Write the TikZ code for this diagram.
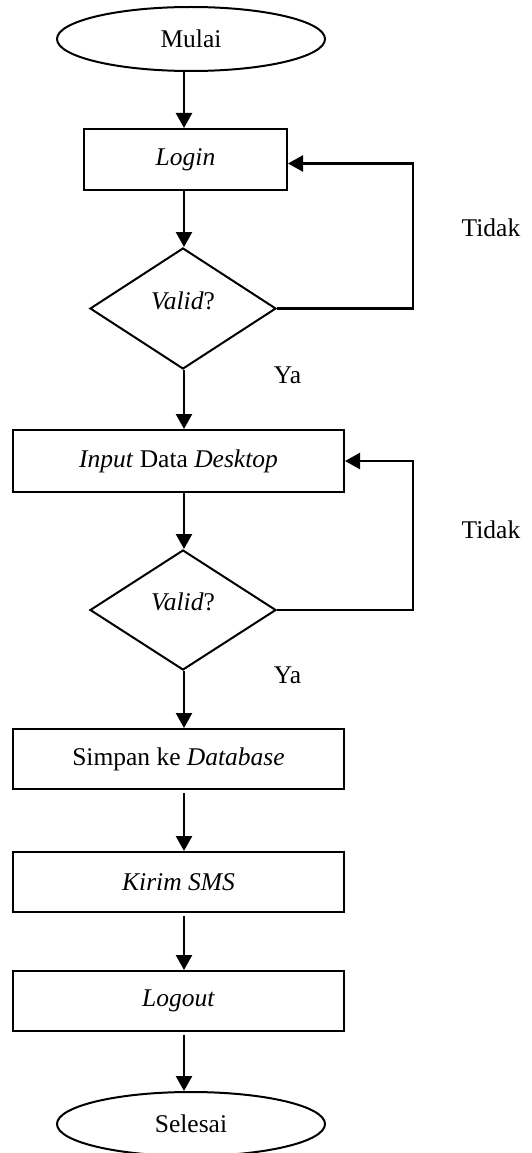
\documentclass[tikz,border=0pt]{standalone}
\usepackage{fontspec}
\setmainfont{Liberation Serif}
\usetikzlibrary{shapes.geometric,arrows.meta}
\newcommand{\liftq}[1]{\raisebox{8pt}[\height][\depth]{#1}}
\begin{document}
\begin{tikzpicture}[x=1pt,y=-1pt,
  font=\fontsize{25.5}{30}\selectfont,
  term/.style={draw,ellipse,line width=2pt,minimum width=268pt,minimum height=64pt,inner sep=0pt},
  proc/.style={draw,rectangle,line width=2pt,inner sep=0pt,minimum width=331pt,minimum height=61pt},
  decide/.style={draw,diamond,line width=2pt,minimum width=186pt,minimum height=121pt,inner sep=0pt},
  flow/.style={line width=2.4pt,-{Triangle[length=15pt,width=16pt]}},
  lbl/.style={inner sep=0pt}]
\useasboundingbox (0,0) rectangle (531,1153);

% guide lines for the main column and the return loops
\coordinate (ax) at (184,0);
\coordinate (rx) at (413,0);

% flow steps
\node[term] (mulai) at (191,39) {\raisebox{-2pt}{Mulai}};
\node[proc,minimum width=203pt] (login) at (185.5,159.5) {\textit{Login}};
\node[decide] (valid1) at (183,308.5) {\liftq{\textit{Valid}?}};
\node[proc,minimum height=62pt] (input) at (178.5,461) {\textit{Input} Data \textit{Desktop}};
\node[decide,minimum height=120pt] (valid2) at (183,610) {\liftq{\textit{Valid}?}};
\node[proc,minimum height=60pt] (simpan) at (178.5,759) {Simpan ke \textit{Database}};
\node[proc,minimum height=60pt] (kirim) at (178.5,882) {\textit{Kirim SMS}};
\node[proc,minimum height=60pt] (logout) at (178.5,1001) {\textit{Logout}};
\node[term] (selesai) at (191,1124) {Selesai};

% branch labels
\node[lbl] (tidak1) at (491,228) {Tidak};
\node[lbl] (ya1) at (287.5,375) {Ya};
\node[lbl] (tidak2) at (491,530) {Tidak};
\node[lbl] (ya2) at (287.5,675) {Ya};

% main column
\draw[flow] (ax |- mulai.south) -- (ax |- login.north);
\draw[flow] (ax |- login.south) -- (ax |- valid1.north);
\draw[flow] (ax |- valid1.south) -- (ax |- input.north);
\draw[flow] (ax |- input.south) -- (ax |- valid2.north);
\draw[flow] (ax |- valid2.south) -- (ax |- simpan.north);
\draw[flow] ([yshift=-3pt]ax |- simpan.south) -- (ax |- kirim.north);
\draw[flow] ([yshift=-3pt]ax |- kirim.south) -- (ax |- logout.north);
\draw[flow] ([yshift=-3pt]ax |- logout.south) -- (ax |- selesai.north);

% "Tidak" return loops
\coordinate (loginin) at ([yshift=-4pt]login.east);
\draw[flow] (valid1.east) -- (rx |- valid1.east) -- (rx |- loginin) -- (loginin);
\draw[flow] (valid2.east) -- (rx |- valid2.east) -- (rx |- input.east) -- (input.east);
\end{tikzpicture}
\end{document}
